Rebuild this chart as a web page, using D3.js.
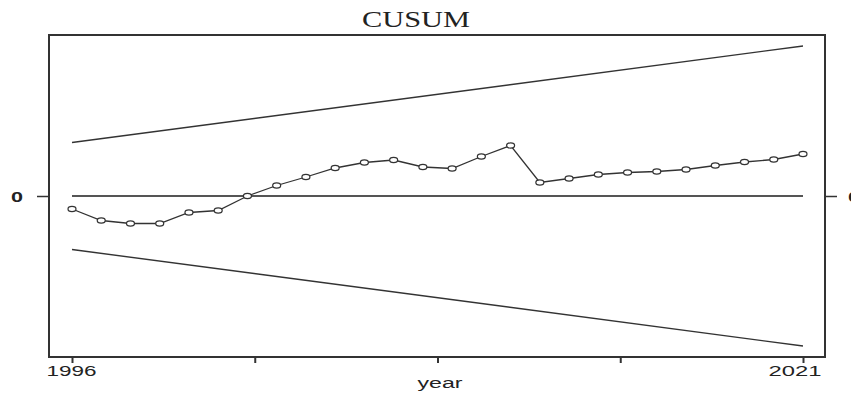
<!DOCTYPE html>
<html>
<head>
<meta charset="utf-8">
<script src="https://cdn.jsdelivr.net/npm/d3@7"></script>
<style>
  html, body { margin: 0; padding: 0; background: #fff; }
  svg { display: block; }
</style>
</head>
<body>
<svg id="chart" width="851" height="396"></svg>
<script>
// ---- data ----
const years = d3.range(1996, 2022);
const cusum = [-0.26, -0.49, -0.55, -0.55, -0.33, -0.29, 0.0, 0.21, 0.38, 0.56,
               0.67, 0.72, 0.58, 0.55, 0.79, 1.01, 0.27, 0.35, 0.43, 0.47,
               0.49, 0.53, 0.61, 0.68, 0.73, 0.84];
const boundStart = 1.07;   // boundary value at 1996
const boundEnd = 3.0;      // boundary value at 2021
const xTicks = [1996, 2002.25, 2008.5, 2014.75, 2021];
const xTickLabels = ["1996", "", "", "", "2021"];
const yTicks = [0];
const yTickLabels = ["0"];
const title = "CUSUM";
const xTitle = "year";

// ---- layout ----
const svg = d3.select("#chart");
const box = { left: 49, right: 825, top: 35, bottom: 357 };
const x = d3.scaleLinear().domain([1996, 2021]).range([72, 803]);
const y = d3.scaleLinear().domain([-3.22, 3.22]).range([box.bottom, box.top]);
const ink = "#222";

// boundaries
const upper = [[1996, boundStart], [2021, boundEnd]];
const lower = [[1996, -boundStart], [2021, -boundEnd]];
const lineGen = d3.line().x(d => x(d[0])).y(d => y(d[1]));
[upper, lower].forEach(b => {
  svg.append("path").attr("d", lineGen(b))
    .attr("fill", "none").attr("stroke", "#333").attr("stroke-width", 1.4);
});

// zero line
svg.append("line")
  .attr("x1", x(1996)).attr("x2", x(2021))
  .attr("y1", y(0)).attr("y2", y(0))
  .attr("stroke", "#555").attr("stroke-width", 2);

// series line
const pts = years.map((yr, i) => [yr, cusum[i]]);
svg.append("path").attr("d", lineGen(pts))
  .attr("fill", "none").attr("stroke", "#333").attr("stroke-width", 1.3);

svg.selectAll("ellipse.pt").data(pts).enter().append("ellipse")
  .attr("class", "pt")
  .attr("cx", d => x(d[0])).attr("cy", d => y(d[1]))
  .attr("rx", 4).attr("ry", 2.6)
  .attr("fill", "#fff").attr("stroke", "#333").attr("stroke-width", 1.2);

// box
svg.append("rect")
  .attr("x", box.left).attr("y", box.top)
  .attr("width", box.right - box.left).attr("height", box.bottom - box.top)
  .attr("fill", "none").attr("stroke", "#333").attr("stroke-width", 2);

// x axis ticks
const xAxis = d3.axisBottom(x).tickValues(xTicks).tickSize(6).tickFormat("");
const gx = svg.append("g").attr("transform", `translate(0,${box.bottom})`).call(xAxis);
gx.select(".domain").remove();
gx.selectAll(".tick line").attr("stroke", "#333").attr("stroke-width", 2);

// x tick labels (stretched text like the reference)
const xLabPos = [{ cx: 71.5, w: 50 }, null, null, null, { cx: 795, w: 53 }];
xTickLabels.forEach((t, i) => {
  if (!t) return;
  const p = xLabPos[i];
  svg.append("text")
    .attr("x", p.cx - p.w / 2).attr("y", 376)
    .attr("textLength", p.w).attr("lengthAdjust", "spacingAndGlyphs")
    .attr("font-family", "Liberation Sans, Arial, sans-serif")
    .attr("font-size", 14).attr("fill", ink)
    .text(t);
});

// y axis ticks (left and right)
const yAxisL = d3.axisLeft(y).tickValues(yTicks).tickSize(12).tickFormat("");
const gyl = svg.append("g").attr("transform", `translate(${box.left},0)`).call(yAxisL);
gyl.select(".domain").remove();
gyl.selectAll(".tick line").attr("stroke", "#333").attr("stroke-width", 1.5);

const yAxisR = d3.axisRight(y).tickValues(yTicks).tickSize(12).tickFormat("");
const gyr = svg.append("g").attr("transform", `translate(${box.right},0)`).call(yAxisR);
gyr.select(".domain").remove();
gyr.selectAll(".tick line").attr("stroke", "#333").attr("stroke-width", 1.5);

yTicks.forEach((v, i) => {
  svg.append("text")
    .attr("x", 11).attr("y", y(v) + 6)
    .attr("textLength", 12).attr("lengthAdjust", "spacingAndGlyphs")
    .attr("font-family", "Liberation Sans, Arial, sans-serif")
    .attr("font-size", 14).attr("font-weight", "bold").attr("fill", ink)
    .text(yTickLabels[i]);
  svg.append("text")
    .attr("x", 848).attr("y", y(v) + 6)
    .attr("textLength", 12).attr("lengthAdjust", "spacingAndGlyphs")
    .attr("font-family", "Liberation Sans, Arial, sans-serif")
    .attr("font-size", 14).attr("font-weight", "bold").attr("fill", ink)
    .text(yTickLabels[i]);
});

// x title
svg.append("text")
  .attr("x", 440 - 22.5).attr("y", 388)
  .attr("textLength", 45).attr("lengthAdjust", "spacingAndGlyphs")
  .attr("font-family", "Liberation Sans, Arial, sans-serif")
  .attr("font-size", 14).attr("fill", ink)
  .text(xTitle);

// title
svg.append("text")
  .attr("x", 362).attr("y", 27)
  .attr("textLength", 108).attr("lengthAdjust", "spacingAndGlyphs")
  .attr("font-family", "Liberation Serif, Times New Roman, serif")
  .attr("font-size", 23).attr("fill", ink)
  .text(title);
</script>
</body>
</html>
